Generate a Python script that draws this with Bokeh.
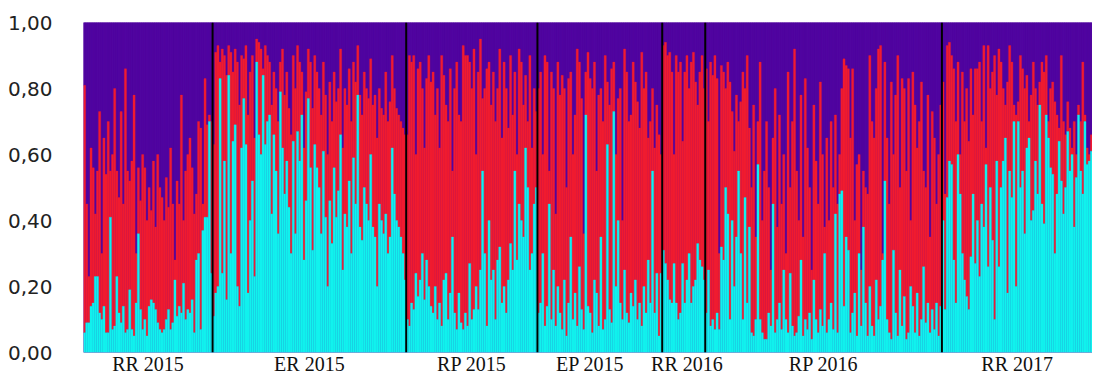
import numpy as np
from bokeh.plotting import figure
from bokeh.models import ColumnDataSource, Span, FixedTicker
from bokeh.embed import file_html
from bokeh.resources import INLINE

# ---- data: per individual, cyan share (K1) and cumulative cyan+red (K1+K2), in percent ----
groups = ["RR 2015", "ER 2015", "RP 2015", "EP 2015", "RR 2016", "RP 2016", "RR 2017"]

rr2015_k1 = [6, 9, 9, 14, 15, 23, 23, 12, 10, 14, 6, 6, 41, 7, 8, 23, 12, 9, 14, 6,
             7, 19, 7, 5, 15, 36, 13, 7, 10, 5, 14, 16, 15, 13, 9, 7, 6, 7, 10, 13,
             7, 9, 22, 11, 14, 12, 21, 10, 13, 12, 16, 6, 28, 30, 7, 37, 41, 41, 70, 24]
rr2015_k12 = [81, 45, 23, 62, 56, 42, 55, 73, 30, 65, 54, 70, 55, 60, 80, 55, 47, 73, 45, 86,
              55, 52, 58, 78, 30, 56, 46, 60, 56, 40, 50, 43, 58, 38, 60, 50, 47, 40, 53, 44,
              62, 45, 28, 52, 45, 78, 40, 55, 60, 65, 56, 42, 48, 70, 68, 45, 83, 69, 72, 70]

er2015_k1 = [11, 18, 20, 83, 24, 58, 16, 84, 30, 64, 69, 20, 14, 62, 77, 63, 18, 40, 52, 23,
             88, 66, 60, 84, 63, 70, 72, 42, 66, 55, 36, 79, 62, 48, 58, 44, 30, 64, 36, 67,
             58, 72, 28, 46, 77, 56, 31, 63, 56, 50, 36, 61, 41, 20, 46, 33, 56, 41, 49, 66,
             25, 42, 38, 52, 30, 59, 45, 78, 38, 34, 50, 45, 40, 60, 38, 35, 20, 45, 40, 36,
             42, 30, 35, 62, 48, 40, 38, 35, 30, 22]
er2015_k12 = [63, 91, 93, 88, 92, 90, 84, 93, 91, 85, 92, 88, 75, 90, 89, 93, 72, 85, 90, 65,
              95, 94, 92, 86, 93, 90, 88, 75, 85, 80, 70, 88, 92, 78, 85, 74, 66, 90, 80, 93,
              88, 85, 62, 79, 92, 88, 74, 90, 85, 80, 72, 88, 78, 60, 82, 70, 85, 76, 80, 92,
              62, 80, 75, 86, 70, 88, 82, 93, 78, 72, 85, 80, 77, 89, 75, 78, 65, 80, 74, 72,
              85, 70, 76, 90, 80, 74, 72, 70, 68, 66]

rp2015_k1 = [10, 8, 15, 13, 24, 17, 22, 30, 16, 28, 20, 14, 12, 20, 10, 15, 8, 22, 24, 10,
             18, 35, 12, 7, 18, 9, 7, 12, 8, 27, 10, 13, 20, 13, 25, 55, 30, 8, 40, 22,
             25, 10, 28, 32, 15, 20, 12, 22, 33, 25, 55, 28, 45, 40, 35, 62, 50, 25, 30, 45, 50]
rp2015_k12 = [66, 90, 88, 90, 60, 86, 88, 80, 62, 83, 90, 82, 85, 72, 80, 62, 90, 84, 75, 70,
              86, 55, 80, 88, 72, 70, 93, 90, 90, 88, 80, 92, 60, 85, 95, 77, 80, 86, 88, 75,
              85, 70, 80, 92, 65, 88, 80, 68, 90, 72, 85, 60, 92, 88, 75, 84, 70, 90, 62, 80, 73]

ep2015_k1 = [12, 15, 30, 8, 14, 45, 10, 25, 8, 20, 12, 7, 22, 5, 15, 35, 10, 18, 8, 26,
             13, 7, 72, 14, 12, 6, 22, 18, 8, 35, 7, 10, 63, 13, 9, 73, 20, 40, 15, 10,
             25, 12, 9, 18, 14, 22, 10, 15, 8, 20, 12, 28, 15, 55, 12, 24, 5, 24]
ep2015_k12 = [80, 85, 60, 90, 88, 55, 85, 80, 42, 88, 78, 84, 80, 50, 83, 85, 60, 72, 92, 88,
              77, 36, 85, 91, 83, 80, 88, 55, 78, 80, 70, 90, 82, 75, 86, 88, 60, 77, 80, 40,
              92, 85, 70, 72, 88, 82, 76, 68, 91, 80, 85, 65, 70, 80, 62, 75, 66, 60]

rr2016_k1 = [31, 27, 22, 16, 15, 27, 15, 10, 12, 27, 15, 22, 30, 15, 20, 22, 33, 28, 26, 22]
rr2016_k12 = [93, 94, 90, 91, 85, 60, 90, 85, 88, 64, 85, 90, 80, 88, 91, 82, 75, 85, 90, 80]

rp2016_k1 = [12, 25, 8, 10,
             7, 12, 7, 32, 28, 50, 42, 10, 40, 20, 35, 55, 30, 10, 47, 15, 38, 6, 5, 10,
             57, 10, 6, 4, 4, 12, 8, 45, 6, 10, 15, 7, 25, 10, 6, 24, 8, 5, 6, 11,
             28, 5, 10, 7, 12, 4, 22, 10, 6, 13, 8, 30, 6, 10, 15, 7, 42, 6, 48,
             49, 14, 35, 31, 6, 12, 18, 5, 30, 8, 38, 15, 5, 20, 8, 5, 22, 10, 14, 28,
             52, 10, 6, 4, 31, 12, 5, 25, 8, 17, 4, 6, 20, 14, 6, 18, 5, 10, 26, 9,
             15, 6, 13, 7, 15, 5, 14]
rp2016_k12 = [86, 70, 88, 84,
              90, 83, 30, 87, 85, 80, 88, 82, 73, 61, 78, 70, 76, 85, 80, 90, 68, 50, 75, 35,
              70, 88, 40, 55, 70, 50, 25, 65, 80, 38, 72, 45, 60, 30, 85, 50, 70, 92, 55, 40,
              78, 35, 83, 62, 50, 25, 75, 58, 45, 82, 60, 38, 65, 40, 70, 50, 72, 45, 60,
              80, 89, 87, 86, 65, 86, 40, 57, 60, 25, 55, 50, 48, 90, 70, 65, 80, 92, 93, 30,
              88, 65, 45, 82, 60, 78, 90, 50, 83, 80, 55, 83, 40, 85, 75, 62, 70, 82, 55, 50,
              78, 35, 73, 65, 45, 60, 75]

rr2017_k1 = [40, 13, 47, 58, 57, 28, 15, 60, 48, 30, 22, 17,
             13, 29, 48, 27, 40, 23, 45, 38, 57, 26, 50, 34, 10, 58, 26, 50, 58, 65, 18, 55,
             47, 70, 20, 70, 50, 55, 36, 62, 65, 40, 43, 58, 48, 75, 45, 39, 72, 65, 56, 54,
             30, 48, 64, 52, 42, 50, 67, 55, 60, 38, 53, 72, 55, 48, 70, 57, 58, 61]
rr2017_k12 = [82, 48, 93, 94, 90, 86, 70, 88, 60, 85, 70, 80,
              64, 86, 72, 86, 86, 88, 70, 93, 62, 93, 80, 85, 90, 78, 92, 88, 80, 75, 82, 93,
              88, 75, 72, 76, 90, 86, 80, 84, 70, 78, 88, 80, 75, 82, 88, 85, 90, 70, 80, 82,
              76, 72, 68, 90, 70, 66, 76, 68, 62, 70, 60, 75, 70, 88, 72, 62, 60, 66]

y_ticks = [0.0, 0.2, 0.4, 0.6, 0.8, 1.0]
y_tick_labels = ["0,00", "0,20", "0,40", "0,60", "0,80", "1,00"]

group_k1 = [rr2015_k1, er2015_k1, rp2015_k1, ep2015_k1, rr2016_k1, rp2016_k1, rr2017_k1]
group_k12 = [rr2015_k12, er2015_k12, rp2015_k12, ep2015_k12, rr2016_k12, rp2016_k12, rr2017_k12]

# ---- styles ----
C_CYAN = "#12F2EE"
C_RED = "#F01C30"
C_PURPLE = "#5005A0"
label_shift = [0, 0, 0, -4.5, 1.5, 0, 0]   # label nudges, in bar units

k1 = np.concatenate([np.array(a, float) for a in group_k1]) / 100.0
k12 = np.concatenate([np.array(a, float) for a in group_k12]) / 100.0
N = len(k1)
left = np.arange(N, dtype=float)
right = left + 1

sizes = [len(a) for a in group_k1]
bounds = np.cumsum([0] + sizes)
label_pos = [float(bounds[i] + sizes[i] / 2 + label_shift[i]) for i in range(len(groups))]

src = ColumnDataSource(dict(left=left, right=right, zero=np.zeros(N), k1=k1, k12=k12, one=np.ones(N)))

p = figure(frame_width=1009, frame_height=330, x_range=(0, N), y_range=(0, 1),
           output_backend="svg", toolbar_location=None,
           min_border_left=83, min_border_right=0, min_border_top=22, min_border_bottom=28)
p.background_fill_color = C_PURPLE
p.outline_line_color = None
p.border_fill_color = "white"

p.quad(left="left", right="right", bottom="k12", top="one", source=src,
       fill_color=C_PURPLE, line_color=C_PURPLE, line_width=0.3)
p.quad(left="left", right="right", bottom="k1", top="k12", source=src,
       fill_color=C_RED, line_color=C_RED, line_width=0.3)
p.quad(left="left", right="right", bottom="zero", top="k1", source=src,
       fill_color=C_CYAN, line_color=C_CYAN, line_width=0.3)

for b in bounds[1:-1]:
    p.add_layout(Span(location=float(b), dimension="height", line_color="black", line_width=2))

p.xgrid.visible = False
p.ygrid.visible = False

p.yaxis.ticker = FixedTicker(ticks=y_ticks)
p.yaxis.major_label_overrides = dict(zip(y_ticks, y_tick_labels))
p.yaxis.axis_line_color = None
p.yaxis.major_tick_line_color = None
p.yaxis.minor_tick_line_color = None
p.yaxis.major_label_standoff = 25
p.yaxis.major_label_text_font = "DejaVu Sans"
p.yaxis.major_label_text_font_size = "20px"
p.yaxis.major_label_text_color = "#222222"

p.xaxis.ticker = FixedTicker(ticks=label_pos)
p.xaxis.major_label_overrides = dict(zip(label_pos, groups))
p.xaxis.axis_line_color = None
p.xaxis.major_tick_line_color = None
p.xaxis.minor_tick_line_color = None
p.xaxis.major_tick_out = 0
p.xaxis.major_label_standoff = 0
p.xaxis.major_label_text_font = "Liberation Serif"
p.xaxis.major_label_text_font_size = "20px"
p.xaxis.major_label_text_color = "#111111"

open("out.html", "w").write(file_html(p, INLINE))
